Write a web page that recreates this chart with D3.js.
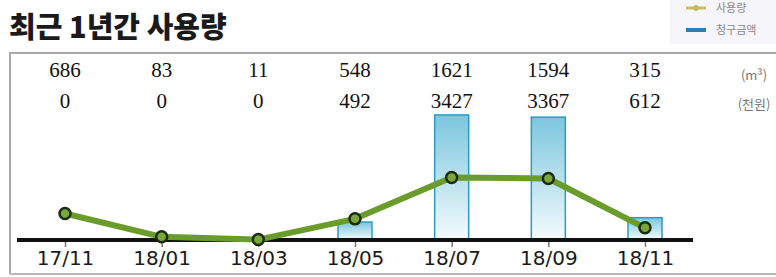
<!DOCTYPE html>
<html>
<head>
<meta charset="utf-8">
<script src="https://cdn.jsdelivr.net/npm/d3@7"></script>
<style>
  body { margin: 0; background: #fff; }
</style>
</head>
<body>
<script>
var months = ["17/11", "18/01", "18/03", "18/05", "18/07", "18/09", "18/11"];
var usage = [686, 83, 11, 548, 1621, 1594, 315];      // m3
var charge = [0, 0, 0, 492, 3427, 3367, 612];          // 천원
var unitLabels = ["(m³)", "(천원)"];
var legendLabels = ["사용량", "청구금액"];

var width = 776;
var height = 277;
var baseY = 240;

var svg = d3.select("body").append("svg")
            .attr("width", width)
            .attr("height", height);

// bar gradient
var grad = svg.append("defs").append("linearGradient")
              .attr("id", "barGrad")
              .attr("x1", 0).attr("y1", 0).attr("x2", 0).attr("y2", 1);
grad.append("stop").attr("offset", "0%").attr("stop-color", "#7cc6de");
grad.append("stop").attr("offset", "100%").attr("stop-color", "#f4fbfd");

// title
svg.append("text")
   .attr("x", 9).attr("y", 38)
   .attr("font-family", "Noto Sans CJK KR")
   .attr("font-weight", 900)
   .attr("font-size", "29px")
   .attr("fill", "#1a1a1a")
   .text("최근 1년간 사용량");

// legend
var lg = svg.append("g");
lg.append("rect").attr("x", 670).attr("y", 0).attr("width", 106).attr("height", 44).attr("fill", "#f6f5f9");
lg.append("line").attr("x1", 686).attr("x2", 706).attr("y1", 8).attr("y2", 8)
  .attr("stroke", "#c8b860").attr("stroke-width", 3);
lg.append("circle").attr("cx", 696).attr("cy", 8).attr("r", 3).attr("fill", "#c8b860");
lg.append("rect").attr("x", 686).attr("y", 28).attr("width", 20).attr("height", 4).attr("fill", "#2a7fb0");
lg.selectAll("text.lg")
  .data(legendLabels)
  .enter()
  .append("text")
  .attr("class", "lg")
  .attr("x", 716)
  .attr("y", function(d, i) { return 12 + i * 22; })
  .attr("font-family", "Noto Sans CJK KR")
  .attr("font-size", "11px")
  .attr("fill", "#8a8a8a")
  .text(function(d) { return d; });

// frame
svg.append("path")
   .attr("d", "M10,274 V53 H776")
   .attr("fill", "none")
   .attr("stroke", "#a8a8a8")
   .attr("stroke-width", 2);
svg.append("line").attr("x1", 10).attr("x2", 776).attr("y1", 274).attr("y2", 274)
   .attr("stroke", "#b8b8b8").attr("stroke-width", 2);

// scales
var x = d3.scalePoint().domain(months).range([65, 645]);
var yBar = d3.scaleLinear().domain([0, 3700]).range([baseY, 105]);
var yLine = d3.scaleLinear().domain([0, 3500]).range([baseY, 105]);
var barW = 34;

// bars (months with a charge only)
var barIdx = d3.range(months.length).filter(function(i) { return charge[i] > 0; });
svg.selectAll("rect.bar")
   .data(barIdx)
   .enter()
   .append("rect")
   .attr("class", "bar")
   .attr("x", function(i) { return x(months[i]) - barW / 2; })
   .attr("y", function(i) { return yBar(charge[i]); })
   .attr("width", barW)
   .attr("height", function(i) { return baseY - yBar(charge[i]); })
   .attr("fill", "url(#barGrad)")
   .attr("stroke", "#2a9cc4")
   .attr("stroke-width", 1.5);

// x axis
var axis = svg.append("g")
   .attr("transform", "translate(0," + baseY + ")")
   .call(d3.axisBottom(x).tickSize(7).tickPadding(4));
axis.select(".domain").remove();
axis.selectAll(".tick line").attr("stroke", "#777").attr("stroke-width", 1.5);
axis.selectAll(".tick text")
    .attr("font-family", "DejaVu Sans")
    .attr("font-size", "20px")
    .attr("fill", "#1a1a1a");
svg.append("line")
   .attr("x1", 17).attr("x2", 693)
   .attr("y1", baseY).attr("y2", baseY)
   .attr("stroke", "#111").attr("stroke-width", 4);

// line
var line = d3.line()
   .x(function(d, i) { return x(months[i]); })
   .y(function(d) { return yLine(d); });
svg.append("path")
   .datum(usage)
   .attr("d", line)
   .attr("fill", "none")
   .attr("stroke", "#6a9c2c")
   .attr("stroke-width", 6)
   .attr("stroke-linejoin", "round");
svg.selectAll("circle.pt")
   .data(usage)
   .enter()
   .append("circle")
   .attr("class", "pt")
   .attr("cx", function(d, i) { return x(months[i]); })
   .attr("cy", function(d) { return yLine(d); })
   .attr("r", 5.5)
   .attr("fill", "#78a83a")
   .attr("stroke", "#1c2a10")
   .attr("stroke-width", 2.5);

// value rows
[usage, charge].forEach(function(row, r) {
  svg.selectAll("text.v" + r)
     .data(row)
     .enter()
     .append("text")
     .attr("class", "v" + r)
     .attr("x", function(d, i) { return x(months[i]); })
     .attr("y", 77 + r * 31)
     .attr("text-anchor", "middle")
     .attr("font-family", "Liberation Serif")
     .attr("font-size", "21px")
     .attr("fill", "#111")
     .text(function(d) { return d; });
});

svg.selectAll("text.unit")
   .data(unitLabels)
   .enter()
   .append("text")
   .attr("class", "unit")
   .attr("x", 754)
   .attr("y", function(d, i) { return 80 + i * 29; })
   .attr("text-anchor", "middle")
   .attr("font-family", "Noto Sans CJK KR")
   .attr("font-size", "13px")
   .attr("fill", "#777")
   .text(function(d) { return d; });
</script>
</body>
</html>
